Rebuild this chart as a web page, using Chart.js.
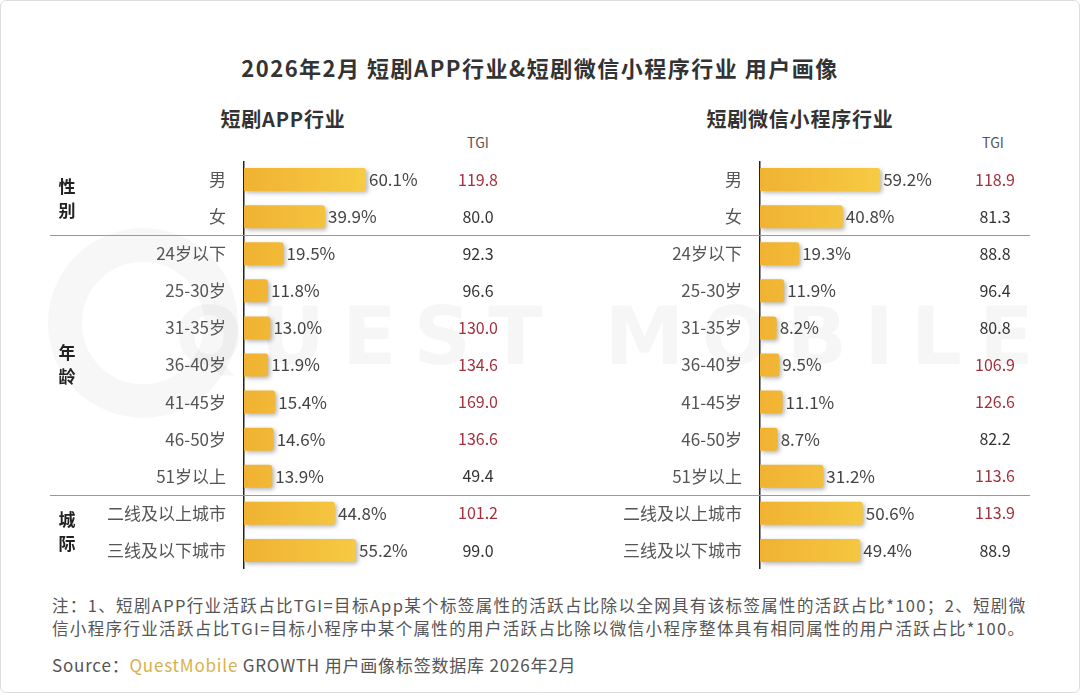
<!DOCTYPE html>
<html>
<head>
<meta charset="utf-8">
<script src="https://cdn.jsdelivr.net/npm/chart.js@4/dist/chart.umd.min.js"></script>
<style>
  html, body { margin: 0; padding: 0; background: #fff; }
  body { width: 1080px; height: 693px; position: relative; overflow: hidden;
         font-family: "Noto Sans CJK SC", "Noto Sans", sans-serif; color: #333; }
  .frame { position: absolute; left: 0; top: 0; width: 1078px; height: 691px;
           border: 1px solid #ddd; border-radius: 6px; }
  .t { position: absolute; white-space: nowrap; transform: translate(-50%, -50%); }
  .wm { position: absolute; left: 175px; top: 290px; font-size: 80px; font-weight: bold;
        letter-spacing: 17px; color: rgba(0,0,0,0.035); font-family: "DejaVu Sans", sans-serif; }
  .wmring { position: absolute; left: 48px; top: 228px; width: 190px; height: 190px;
            border-radius: 50%; border: 34px solid rgba(0,0,0,0.03); box-sizing: border-box; }
  .box { position: absolute; top: 161px; width: 540px; height: 408px; }
  .note { position: absolute; left: 52px; font-size: 16.5px; letter-spacing: 1.35px; color: #555; white-space: nowrap; }
</style>
</head>
<body>
<div class="frame"></div>
<div class="wmring"></div>
<div class="wm">QUEST MOBILE</div>

<div class="t" style="left:540px;top:67px;font-size:22px;letter-spacing:1.5px;font-weight:bold;">2026年2月 短剧APP行业&amp;短剧微信小程序行业 用户画像</div>
<div class="t" style="left:283px;top:118px;font-size:20px;letter-spacing:0.8px;font-weight:bold;">短剧APP行业</div>
<div class="t" style="left:800px;top:118px;font-size:20px;letter-spacing:0.8px;font-weight:bold;">短剧微信小程序行业</div>
<div class="t" style="left:478px;top:142px;font-size:14px;color:#555;">TGI</div>
<div class="t" style="left:993px;top:142px;font-size:14px;color:#555;">TGI</div>

<div class="box" style="left:0;"><canvas id="left"></canvas></div>
<div class="box" style="left:540px;"><canvas id="right"></canvas></div>

<div class="note" style="top:593px;">注：1、短剧APP行业活跃占比TGI=目标App某个标签属性的活跃占比除以全网具有该标签属性的活跃占比*100；2、短剧微</div>
<div class="note" style="top:616px;">信小程序行业活跃占比TGI=目标小程序中某个属性的用户活跃占比除以微信小程序整体具有相同属性的用户活跃占比*100。</div>
<div class="note" style="top:652px;font-size:17px;letter-spacing:0.8px;">Source：<span style="color:#d6b24c;">QuestMobile</span> GROWTH 用户画像标签数据库 2026年2月</div>

<script>
const categories = ['男','女','24岁以下','25-30岁','31-35岁','36-40岁','41-45岁','46-50岁','51岁以上','二线及以上城市','三线及以下城市'];
const appShare = [60.1,39.9,19.5,11.8,13.0,11.9,15.4,14.6,13.9,44.8,55.2];
const appTgi = [119.8,80.0,92.3,96.6,130.0,134.6,169.0,136.6,49.4,101.2,99.0];
const miniShare = [59.2,40.8,19.3,11.9,8.2,9.5,11.1,8.7,31.2,50.6,49.4];
const miniTgi = [118.9,81.3,88.8,96.4,80.8,106.9,126.6,82.2,113.6,113.9,88.9];

const groupNames = ['性别','年龄','城际'];
const groupStart = [0,2,9];
const groupEnd = [1,8,10];

const FONT = '"Noto Sans CJK SC", "Noto Sans", sans-serif';

function barFill(ctx) {
  const chart = ctx.chart;
  const area = chart.chartArea;
  if (!area) return '#f4c03c';
  const g = chart.ctx.createLinearGradient(area.left, 0, area.left + 130, 0);
  g.addColorStop(0, '#f0b232');
  g.addColorStop(1, '#f7cd45');
  return g;
}

function makePanel(id, share, tgi, opt) {
  const canvas = document.getElementById(id);

  const overlay = {
    id: 'overlay_' + id,
    beforeDatasetsDraw(chart) {
      const c = chart.ctx;
      c.save();
      c.shadowColor = 'rgba(0,0,0,0.28)';
      c.shadowBlur = 4;
      c.shadowOffsetX = 2;
      c.shadowOffsetY = 2;
    },
    afterDatasetsDraw(chart) {
      chart.ctx.restore();
      const c = chart.ctx;
      const xs = chart.scales.x;
      const ys = chart.scales.y;
      c.save();
      c.textBaseline = 'middle';
      share.forEach((v, i) => {
        const y = ys.getPixelForValue(i);
        c.font = '17px ' + FONT;
        c.fillStyle = '#444';
        c.textAlign = 'left';
        c.fillText(v.toFixed(1) + '%', xs.getPixelForValue(v) + 3, y);
        c.font = '16px ' + FONT;
        c.textAlign = 'center';
        c.fillStyle = tgi[i] > 100 ? '#a3303c' : '#333';
        c.fillText(tgi[i].toFixed(1), opt.tgiX, y);
      });
      // separators between groups
      c.strokeStyle = '#999';
      c.lineWidth = 1;
      for (let k = 0; k < groupStart.length - 1; k++) {
        const yb = (ys.getPixelForValue(groupEnd[k]) + ys.getPixelForValue(groupStart[k + 1])) / 2;
        c.beginPath();
        c.moveTo(opt.lineFrom, Math.round(yb) + 0.5);
        c.lineTo(opt.lineTo, Math.round(yb) + 0.5);
        c.stroke();
      }
      // group names, stacked vertically
      if (opt.groups) {
        c.fillStyle = '#222';
        c.font = 'bold 17px ' + FONT;
        c.textAlign = 'center';
        groupNames.forEach((name, k) => {
          const yc = (ys.getPixelForValue(groupStart[k]) + ys.getPixelForValue(groupEnd[k])) / 2;
          c.fillText(name[0], 67, yc - 12);
          c.fillText(name[1], 67, yc + 12);
        });
      }
      c.restore();
    }
  };

  return new Chart(canvas, {
    type: 'bar',
    data: {
      labels: categories,
      datasets: [{
        data: share,
        backgroundColor: barFill,
        borderRadius: { topRight: 3, bottomRight: 3 },
        borderSkipped: 'left',
        barPercentage: 0.62,
        categoryPercentage: 1.0
      }]
    },
    options: {
      indexAxis: 'y',
      responsive: true,
      maintainAspectRatio: false,
      animation: false,
      layout: { padding: { top: 0, bottom: 0, left: 0, right: opt.padRight } },
      plugins: { legend: { display: false }, tooltip: { enabled: false } },
      scales: {
        x: { display: false, min: 0, max: 100 },
        y: {
          grid: { display: false, drawTicks: false },
          border: { display: true, color: '#222', width: 1.5 },
          ticks: { color: '#555', padding: 18, font: { size: 17, family: FONT } },
          afterFit(scale) {
            scale.width = opt.axisX;
            scale.paddingTop = 0;
            scale.paddingBottom = 0;
          }
        }
      }
    },
    plugins: [overlay]
  });
}

makePanel('left', appShare, appTgi, { axisX: 244, padRight: 93, tgiX: 478, lineFrom: 50, lineTo: 540, groups: true });
makePanel('right', miniShare, miniTgi, { axisX: 220, padRight: 117, tgiX: 455, lineFrom: 0, lineTo: 490, groups: false });
</script>
</body>
</html>
